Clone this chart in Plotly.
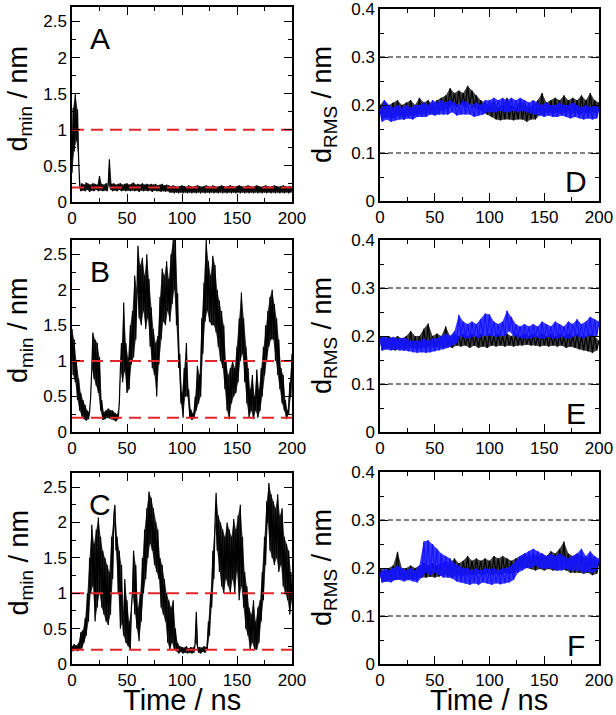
import plotly.graph_objects as go

W, H = 616, 715

# ---------------- data ----------------
t_fine = list(range(0, 201, 1))     # ns, panels A-C
t_coarse = list(range(0, 201, 2))   # ns, panels D-F

dmin_A = [
    0.40, 1.30, 0.70, 1.50, 0.85, 1.28, 0.60, 0.22, 0.15, 0.26,
    0.16, 0.24, 0.15, 0.27, 0.17, 0.25, 0.14, 0.24, 0.16, 0.26,
    0.15, 0.25, 0.17, 0.24, 0.15, 0.36, 0.16, 0.25, 0.15, 0.24,
    0.16, 0.26, 0.15, 0.25, 0.59, 0.17, 0.25, 0.15, 0.26, 0.16,
    0.24, 0.15, 0.25, 0.17, 0.26, 0.15, 0.24, 0.16, 0.25, 0.15,
    0.26, 0.16, 0.24, 0.15, 0.25, 0.16, 0.27, 0.15, 0.24, 0.16,
    0.25, 0.14, 0.24, 0.16, 0.26, 0.15, 0.24, 0.16, 0.25, 0.15,
    0.24, 0.16, 0.25, 0.14, 0.24, 0.16, 0.25, 0.15, 0.23, 0.15,
    0.24, 0.14, 0.25, 0.15, 0.23, 0.14, 0.24, 0.15, 0.23, 0.13,
    0.22, 0.13, 0.23, 0.12, 0.22, 0.13, 0.21, 0.12, 0.22, 0.13,
    0.23, 0.12, 0.22, 0.13, 0.21, 0.12, 0.23, 0.13, 0.22, 0.12,
    0.21, 0.13, 0.22, 0.12, 0.23, 0.13, 0.22, 0.12, 0.21, 0.13,
    0.22, 0.12, 0.23, 0.13, 0.22, 0.12, 0.21, 0.13, 0.23, 0.12,
    0.22, 0.13, 0.21, 0.12, 0.22, 0.13, 0.23, 0.12, 0.22, 0.13,
    0.21, 0.12, 0.22, 0.13, 0.23, 0.12, 0.22, 0.13, 0.21, 0.12,
    0.22, 0.13, 0.23, 0.12, 0.22, 0.13, 0.21, 0.12, 0.22, 0.13,
    0.23, 0.12, 0.22, 0.13, 0.21, 0.12, 0.22, 0.13, 0.23, 0.12,
    0.22, 0.13, 0.21, 0.12, 0.22, 0.13, 0.23, 0.12, 0.22, 0.13,
    0.21, 0.12, 0.22, 0.13, 0.23, 0.12, 0.22, 0.13, 0.21, 0.12,
    0.22, 0.13, 0.23, 0.12, 0.22, 0.13, 0.21, 0.12, 0.22, 0.13,
    0.21,
]

dmin_B = [
    1.45, 0.80, 1.30, 0.70, 1.00, 0.45, 0.75, 0.30, 0.55, 0.22,
    0.45, 0.18, 0.38, 0.16, 0.30, 0.18, 0.28, 0.50, 0.90, 1.40,
    0.75, 1.30, 0.65, 1.25, 0.55, 1.05, 0.30, 0.45, 0.17, 0.28,
    0.18, 0.30, 0.20, 0.33, 0.19, 0.31, 0.18, 0.30, 0.17, 0.27,
    0.15, 0.25, 0.18, 0.40, 0.90, 1.25, 0.70, 1.82, 0.85, 1.25,
    0.55, 1.05, 0.60, 1.50, 0.95, 1.70, 1.05, 2.20, 1.30, 2.00,
    2.62, 1.60, 2.35, 1.50, 2.45, 1.70, 2.20, 1.45, 2.50, 1.60,
    2.15, 1.20, 1.75, 0.90, 1.45, 0.80, 1.25, 0.50, 1.35, 0.95,
    1.90, 1.30, 2.30, 1.55, 2.20, 1.50, 2.40, 1.70, 2.15, 1.55,
    2.50, 1.80, 2.70, 2.00, 2.70, 1.50, 1.95, 0.90, 1.10, 0.40,
    0.55, 0.20, 0.90, 0.50, 1.25, 0.50, 0.60, 0.20, 0.32, 0.17,
    0.26, 0.19, 0.50, 0.30, 0.93, 0.40, 0.80, 0.50, 1.60, 1.10,
    2.10, 1.55, 2.70, 1.70, 2.40, 1.55, 2.20, 1.50, 2.48, 1.50,
    2.35, 1.40, 2.00, 1.20, 1.85, 1.00, 1.70, 0.90, 1.50, 0.60,
    1.00, 0.30, 0.80, 0.18, 0.90, 0.40, 1.00, 0.50, 0.90, 0.55,
    1.20, 0.70, 1.60, 1.00, 1.96, 1.10, 1.60, 0.70, 1.20, 0.40,
    0.90, 0.20, 0.60, 0.30, 0.80, 0.18, 0.50, 0.30, 0.88, 0.20,
    0.60, 0.30, 0.90, 0.50, 1.20, 0.80, 1.50, 1.00, 1.70, 1.20,
    1.90, 1.30, 2.00, 1.30, 1.80, 1.00, 1.60, 0.80, 1.30, 0.60,
    0.90, 0.40, 0.80, 0.30, 0.45, 0.18, 0.30, 0.25, 0.70, 0.50,
    1.10,
]

dmin_C = [
    0.25, 0.18, 0.28, 0.20, 0.26, 0.18, 0.30, 0.20, 0.45, 0.22,
    0.48, 0.30, 0.65, 0.40, 1.00, 0.60, 1.50, 1.00, 1.97, 1.10,
    1.70, 0.60, 1.90, 0.80, 2.07, 1.00, 1.80, 0.80, 1.60, 0.70,
    1.50, 0.60, 1.40, 0.55, 1.30, 0.70, 1.80, 1.20, 2.10, 2.25,
    1.60, 1.80, 1.00, 1.60, 0.50, 1.40, 0.60, 0.40, 1.20, 0.30,
    0.90, 0.25, 0.60, 0.20, 0.80, 1.00, 1.60, 0.70, 1.40, 0.50,
    0.80, 0.32, 1.00, 0.60, 1.50, 1.00, 1.90, 1.20, 2.20, 1.50,
    2.44, 1.70, 2.35, 1.60, 2.20, 1.40, 2.00, 1.30, 1.90, 1.20,
    1.50, 0.80, 1.40, 0.70, 1.20, 0.60, 1.00, 0.30, 0.90, 0.20,
    0.80, 0.30, 0.90, 0.20, 0.50, 0.18, 0.30, 0.15, 0.25, 0.17,
    0.24, 0.15, 0.23, 0.16, 0.25, 0.15, 0.22, 0.16, 0.24, 0.15,
    0.23, 0.16, 0.30, 0.74, 0.25, 0.16, 0.24, 0.15, 0.23, 0.17,
    0.25, 0.16, 0.24, 0.20, 0.60, 0.40, 1.00, 0.80, 1.60, 1.20,
    2.00, 2.42, 1.60, 2.10, 1.30, 2.00, 1.10, 1.90, 1.00, 1.80,
    1.20, 2.00, 1.10, 1.90, 1.00, 1.80, 1.20, 2.05, 1.00, 1.90,
    1.30, 2.10, 0.90, 2.25, 1.10, 1.80, 0.80, 1.30, 0.50, 1.10,
    0.40, 0.80, 0.20, 0.70, 0.30, 0.90, 0.20, 0.60, 0.20, 0.80,
    0.30, 0.90, 0.60, 1.30, 0.90, 1.80, 1.40, 2.30, 2.00, 2.56,
    1.60, 2.40, 1.50, 2.30, 1.40, 2.20, 1.50, 2.40, 1.30, 2.10,
    1.40, 2.20, 1.10, 1.80, 1.00, 1.70, 0.90, 1.60, 0.70, 1.30,
    0.90,
]

drms_D_black = [
    0.20, 0.17, 0.21, 0.175, 0.20, 0.17, 0.205, 0.175, 0.21, 0.18,
    0.20, 0.17, 0.205, 0.18, 0.21, 0.175, 0.20, 0.18, 0.215, 0.18,
    0.205, 0.18, 0.21, 0.185, 0.20, 0.18, 0.21, 0.185, 0.215, 0.19,
    0.22, 0.19, 0.235, 0.20, 0.225, 0.195, 0.23, 0.20, 0.225, 0.195,
    0.24, 0.20, 0.23, 0.195, 0.22, 0.19, 0.21, 0.185, 0.205, 0.18,
    0.20, 0.175, 0.21, 0.17, 0.195, 0.168, 0.20, 0.17, 0.215, 0.17,
    0.20, 0.168, 0.195, 0.17, 0.21, 0.17, 0.20, 0.165, 0.195, 0.17,
    0.20, 0.17, 0.21, 0.18, 0.225, 0.18, 0.205, 0.185, 0.21, 0.18,
    0.215, 0.185, 0.21, 0.18, 0.22, 0.185, 0.21, 0.18, 0.215, 0.185,
    0.21, 0.18, 0.22, 0.185, 0.21, 0.18, 0.225, 0.185, 0.21, 0.18,
    0.205,
]
drms_D_blue = [
    0.19, 0.165, 0.21, 0.17, 0.20, 0.165, 0.195, 0.168, 0.20, 0.17,
    0.195, 0.17, 0.20, 0.172, 0.195, 0.17, 0.20, 0.175, 0.20, 0.175,
    0.205, 0.175, 0.20, 0.18, 0.21, 0.178, 0.205, 0.18, 0.21, 0.18,
    0.205, 0.18, 0.21, 0.185, 0.205, 0.178, 0.20, 0.18, 0.21, 0.18,
    0.205, 0.18, 0.20, 0.175, 0.205, 0.178, 0.20, 0.18, 0.21, 0.185,
    0.21, 0.185, 0.215, 0.185, 0.21, 0.188, 0.215, 0.185, 0.21, 0.185,
    0.215, 0.188, 0.21, 0.185, 0.215, 0.188, 0.21, 0.185, 0.205, 0.182,
    0.21, 0.18, 0.205, 0.178, 0.20, 0.175, 0.205, 0.178, 0.20, 0.175,
    0.20, 0.175, 0.205, 0.178, 0.20, 0.175, 0.20, 0.172, 0.205, 0.175,
    0.20, 0.172, 0.195, 0.17, 0.20, 0.172, 0.195, 0.17, 0.20, 0.172,
    0.195,
]
drms_E_black = [
    0.20, 0.17, 0.195, 0.175, 0.20, 0.172, 0.195, 0.17, 0.20, 0.175,
    0.195, 0.17, 0.20, 0.175, 0.21, 0.175, 0.20, 0.172, 0.20, 0.175,
    0.215, 0.175, 0.226, 0.178, 0.20, 0.175, 0.205, 0.178, 0.20, 0.175,
    0.22, 0.178, 0.20, 0.175, 0.205, 0.18, 0.20, 0.178, 0.205, 0.18,
    0.20, 0.175, 0.205, 0.18, 0.20, 0.175, 0.205, 0.178, 0.20, 0.175,
    0.205, 0.18, 0.20, 0.178, 0.205, 0.18, 0.20, 0.178, 0.205, 0.18,
    0.20, 0.178, 0.205, 0.18, 0.20, 0.18, 0.205, 0.182, 0.20, 0.18,
    0.205, 0.18, 0.20, 0.178, 0.205, 0.18, 0.20, 0.178, 0.205, 0.18,
    0.20, 0.178, 0.205, 0.18, 0.20, 0.175, 0.205, 0.178, 0.20, 0.175,
    0.205, 0.172, 0.20, 0.17, 0.20, 0.168, 0.205, 0.165, 0.20, 0.17,
    0.19,
]
drms_E_blue = [
    0.195, 0.17, 0.20, 0.172, 0.195, 0.17, 0.198, 0.172, 0.195, 0.17,
    0.196, 0.17, 0.195, 0.168, 0.19, 0.166, 0.19, 0.165, 0.19, 0.166,
    0.195, 0.165, 0.19, 0.166, 0.195, 0.168, 0.195, 0.17, 0.20, 0.172,
    0.205, 0.175, 0.20, 0.18, 0.21, 0.185, 0.244, 0.20, 0.23, 0.195,
    0.225, 0.195, 0.23, 0.20, 0.225, 0.195, 0.235, 0.20, 0.247, 0.20,
    0.245, 0.20, 0.23, 0.198, 0.225, 0.20, 0.23, 0.20, 0.253, 0.21,
    0.24, 0.20, 0.225, 0.198, 0.22, 0.195, 0.225, 0.195, 0.22, 0.195,
    0.225, 0.198, 0.22, 0.195, 0.23, 0.195, 0.225, 0.198, 0.22, 0.195,
    0.23, 0.195, 0.225, 0.198, 0.22, 0.195, 0.23, 0.195, 0.225, 0.20,
    0.235, 0.198, 0.225, 0.195, 0.23, 0.20, 0.24, 0.198, 0.235, 0.20,
    0.23,
]
drms_F_black = [
    0.20, 0.17, 0.195, 0.172, 0.20, 0.175, 0.205, 0.175, 0.234, 0.178,
    0.20, 0.175, 0.20, 0.178, 0.205, 0.175, 0.20, 0.178, 0.205, 0.18,
    0.21, 0.18, 0.205, 0.182, 0.21, 0.18, 0.205, 0.182, 0.21, 0.185,
    0.215, 0.185, 0.21, 0.18, 0.22, 0.185, 0.21, 0.182, 0.215, 0.185,
    0.225, 0.185, 0.215, 0.185, 0.22, 0.188, 0.215, 0.185, 0.22, 0.188,
    0.215, 0.185, 0.225, 0.188, 0.22, 0.185, 0.225, 0.19, 0.22, 0.188,
    0.215, 0.19, 0.22, 0.195, 0.225, 0.20, 0.23, 0.20, 0.225, 0.198,
    0.23, 0.195, 0.225, 0.198, 0.23, 0.195, 0.225, 0.198, 0.235, 0.195,
    0.23, 0.195, 0.24, 0.198, 0.255, 0.195, 0.23, 0.19, 0.225, 0.19,
    0.23, 0.19, 0.225, 0.188, 0.22, 0.19, 0.225, 0.185, 0.22, 0.188,
    0.215,
]
drms_F_blue = [
    0.19, 0.17, 0.20, 0.172, 0.195, 0.17, 0.20, 0.175, 0.205, 0.175,
    0.20, 0.172, 0.195, 0.175, 0.20, 0.172, 0.195, 0.17, 0.205, 0.18,
    0.255, 0.19, 0.258, 0.185, 0.25, 0.19, 0.24, 0.185, 0.23, 0.18,
    0.225, 0.18, 0.22, 0.178, 0.21, 0.172, 0.205, 0.17, 0.20, 0.168,
    0.20, 0.165, 0.195, 0.168, 0.20, 0.165, 0.195, 0.17, 0.20, 0.168,
    0.198, 0.165, 0.20, 0.168, 0.195, 0.166, 0.20, 0.168, 0.20, 0.17,
    0.205, 0.175, 0.215, 0.19, 0.225, 0.195, 0.23, 0.20, 0.235, 0.20,
    0.24, 0.205, 0.235, 0.20, 0.23, 0.198, 0.225, 0.20, 0.23, 0.198,
    0.225, 0.195, 0.23, 0.195, 0.225, 0.198, 0.22, 0.195, 0.225, 0.195,
    0.23, 0.195, 0.24, 0.19, 0.225, 0.192, 0.235, 0.19, 0.225, 0.195,
    0.22,
]

dmin_thresholds = [0.2, 1.0]
drms_refs = [0.1, 0.3]
panel_letters = ["A", "B", "C", "D", "E", "F"]
x_tick_vals = [0, 50, 100, 150, 200]
dmin_tick_vals = [0, 0.5, 1, 1.5, 2, 2.5]
dmin_tick_text = ["0", "0.5", "1", "1.5", "2", "2.5"]
drms_tick_vals = [0, 0.1, 0.2, 0.3, 0.4]
drms_tick_text = ["0", "0.1", "0.2", "0.3", "0.4"]

# ---------------- layout helpers ----------------
def px_x(x):
    return x / W

def px_y(y):
    return 1 - y / H

# pixel boxes (left, right, top, bottom)
boxes = {
    "A": (72, 292, 7, 202),
    "B": (72, 292, 240, 432),
    "C": (72, 292, 473, 664),
    "D": (380, 599, 9, 201),
    "E": (380, 599, 240, 432),
    "F": (380, 599, 472, 664),
}

FONT = "Liberation Sans, Arial, Helvetica, sans-serif"
RED = "#e3262b"
BLUE = "#1414ff"

fig = go.Figure()

left_series = {"A": dmin_A, "B": dmin_B, "C": dmin_C}
right_series = {
    "D": (drms_D_black, drms_D_blue),
    "E": (drms_E_black, drms_E_blue),
    "F": (drms_F_black, drms_F_blue),
}


def add_noisy(t, y, color, fill, xa, ya, width):
    # band between alternating samples, then the trace itself on top
    fig.add_trace(go.Scatter(x=t[0::2], y=y[0::2], mode="lines",
                             line=dict(color=color, width=0),
                             xaxis=xa, yaxis=ya, hoverinfo="skip"))
    fig.add_trace(go.Scatter(x=t[1::2], y=y[1::2], mode="lines",
                             line=dict(color=color, width=0),
                             fill="tonexty", fillcolor=fill,
                             xaxis=xa, yaxis=ya, hoverinfo="skip"))
    fig.add_trace(go.Scatter(x=t, y=y, mode="lines",
                             line=dict(color=color, width=width),
                             xaxis=xa, yaxis=ya))


layout = dict(
    template="none",
    width=W, height=H, margin=dict(l=0, r=0, t=0, b=0, autoexpand=False),
    paper_bgcolor="white", plot_bgcolor="white", showlegend=False,
    font=dict(family=FONT, color="black"),
)

annotations = []
for i, key in enumerate(panel_letters):
    n = i + 1
    xa = "x" if n == 1 else f"x{n}"
    ya = "y" if n == 1 else f"y{n}"
    l, r, t, b = boxes[key]
    left = key in left_series
    common = dict(
        showline=True, linecolor="black", linewidth=1.5, mirror="ticks",
        ticks="inside", ticklen=8, tickwidth=1.3, tickcolor="black",
        showgrid=False, zeroline=False, automargin=False,
        ticklabeloverflow="allow",
        tickfont=dict(size=17, family=FONT, color="black"),
    )
    layout["xaxis" if n == 1 else f"xaxis{n}"] = dict(
        common, domain=[px_x(l), px_x(r)], anchor=ya, range=[0, 200],
        tickvals=x_tick_vals, ticktext=[str(v) for v in x_tick_vals],
        minor=dict(ticks="inside", ticklen=4, tickwidth=1.2, dtick=25, tick0=0,
                   tickcolor="black", showgrid=False),
    )
    if left:
        layout["yaxis" if n == 1 else f"yaxis{n}"] = dict(
            common, domain=[px_y(b), px_y(t)], anchor=xa, range=[0, 2.7],
            tickvals=dmin_tick_vals, ticktext=dmin_tick_text,
            minor=dict(ticks="inside", ticklen=4, tickwidth=1.2, dtick=0.25, tick0=0,
                       tickcolor="black", showgrid=False),
        )
        add_noisy(t_fine, left_series[key], "black", "rgba(0,0,0,0.8)", xa, ya, 1.2)
        for thr in dmin_thresholds:
            fig.add_trace(go.Scatter(x=[0, 200], y=[thr, thr], mode="lines",
                                     line=dict(color=RED, width=2, dash="12px,7px"),
                                     xaxis=xa, yaxis=ya))
        title = "d<sub>min</sub> / nm"
        tx = 20
        ty = (t + b) / 2 - 6
        lx, ly = (l + 28, t + 31)
    else:
        layout["yaxis" if n == 1 else f"yaxis{n}"] = dict(
            common, domain=[px_y(b), px_y(t)], anchor=xa, range=[0, 0.4],
            tickvals=drms_tick_vals, ticktext=drms_tick_text,
            minor=dict(ticks="inside", ticklen=4, tickwidth=1.2, dtick=0.05, tick0=0,
                       tickcolor="black", showgrid=False),
        )
        for ref in drms_refs:
            fig.add_trace(go.Scatter(x=[0, 200], y=[ref, ref], mode="lines",
                                     line=dict(color="black", width=1, dash="5px,3px"),
                                     xaxis=xa, yaxis=ya))
        blk, blu = right_series[key]
        add_noisy(t_coarse, blk, "black", "rgba(0,0,0,0.75)", xa, ya, 1.2)
        add_noisy(t_coarse, blu, BLUE, "rgba(20,20,255,0.85)", xa, ya, 1.2)
        title = "d<sub>RMS</sub> / nm"
        tx = 324
        ty = (t + b) / 2
        lx, ly = (r - 23, b - 19)
    annotations.append(dict(
        text=title, textangle=-90, x=px_x(tx), y=px_y(ty), xref="paper", yref="paper",
        xanchor="center", yanchor="middle", showarrow=False,
        font=dict(size=27, family=FONT, color="black"),
    ))
    annotations.append(dict(
        text=key, x=px_x(lx), y=px_y(ly), xref="paper", yref="paper",
        xanchor="center", yanchor="middle", showarrow=False,
        font=dict(size=30, family=FONT, color="black"),
    ))

for cx in [(72 + 292) / 2, (380 + 599) / 2]:
    annotations.append(dict(
        text="Time / ns", x=px_x(cx), y=px_y(700), xref="paper", yref="paper",
        xanchor="center", yanchor="middle", showarrow=False,
        font=dict(size=29, family=FONT, color="black"),
    ))

layout["annotations"] = annotations
fig.update_layout(**layout)
fig.write_html(
    "out.html",
    config={"displayModeBar": False},
    post_script="document.body.style.margin='0';document.body.style.padding='0';",
)
